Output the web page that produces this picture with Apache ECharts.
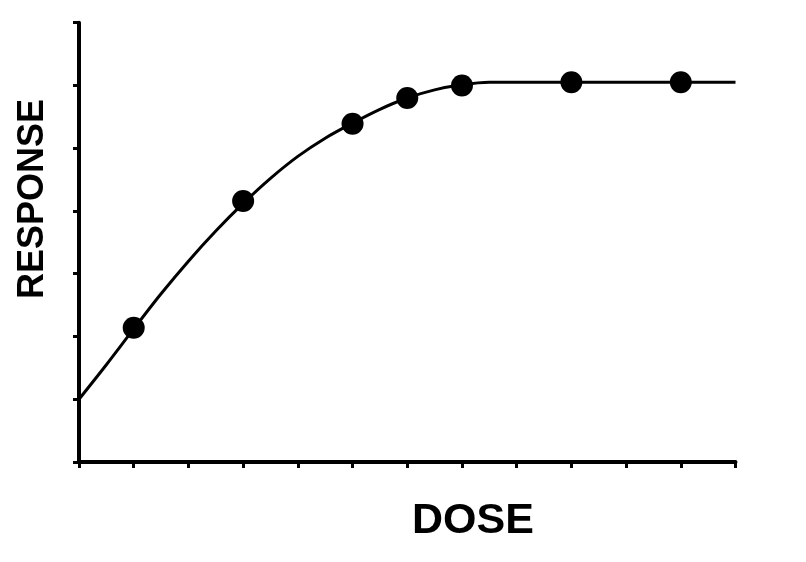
<!DOCTYPE html>
<html>
<head>
<meta charset="utf-8">
<script src="https://cdn.jsdelivr.net/npm/echarts@6/dist/echarts.min.js"></script>
<style>html,body{margin:0;padding:0;background:#fff}#c{width:806px;height:562px}</style>
</head>
<body>
<div id="c"></div>
<script>
// Measured data points (dose, response)
var doseValues = [1, 3, 5, 6, 7, 9, 11];
var responseValues = [2.14, 4.16, 5.39, 5.80, 6.00, 6.05, 6.05];
// Fitted curve
var curveDose = [0, 0.5, 1, 1.5, 2, 2.5, 3, 3.5, 4, 4.5, 5, 5.5, 6, 6.5, 7, 7.5, 8, 9, 10, 11, 12];
var curveResponse = [1.0, 1.55, 2.12, 2.68, 3.2, 3.68, 4.12, 4.52, 4.87, 5.16, 5.40, 5.62, 5.80, 5.93, 6.01, 6.05, 6.05, 6.05, 6.05, 6.05, 6.05];
var xLabel = 'DOSE';
var yLabel = 'RESPONSE';

var pts = doseValues.map(function (d, i) { return [d, responseValues[i]]; });
var curve = curveDose.map(function (d, i) { return [d, curveResponse[i]]; });

var chart = echarts.init(document.getElementById('c'), null, {renderer: 'canvas'});
var font = '"Liberation Sans", Arial, sans-serif';
chart.setOption({
  animation: false,
  backgroundColor: '#fff',
  grid: {left: 79, right: 70.5, top: 22.7, bottom: 100, containLabel: false},
  graphic: [
    {type: 'text', left: 412, top: 500, style: {text: xLabel, fontFamily: font, fontSize: 43, fontWeight: 'bold', fill: '#000'}},
    {type: 'text', x: 33, y: 199, rotation: Math.PI / 2,
     style: {text: yLabel, fontFamily: font, fontSize: 36, fontWeight: 'bold', fill: '#000', align: 'center', verticalAlign: 'middle'}}
  ],
  xAxis: {
    type: 'value', min: 0, max: 12, interval: 1,
    axisLine: {show: true, onZero: false, lineStyle: {color: '#000', width: 4}},
    axisTick: {show: true, length: 6, lineStyle: {color: '#000', width: 3}},
    axisLabel: {show: false},
    splitLine: {show: false}
  },
  yAxis: {
    type: 'value', min: 0, max: 7, interval: 1,
    axisLine: {show: true, onZero: false, lineStyle: {color: '#000', width: 4}},
    axisTick: {show: true, length: 6, lineStyle: {color: '#000', width: 3}},
    axisLabel: {show: false},
    splitLine: {show: false}
  },
  series: [
    {
      type: 'line', data: curve, smooth: 0.3, showSymbol: false, symbol: 'none',
      lineStyle: {color: '#000', width: 3}, z: 2, clip: false
    },
    {
      type: 'scatter', data: pts, symbol: 'circle', symbolSize: 22,
      itemStyle: {color: '#000', opacity: 1}, z: 3
    }
  ]
});
</script>
</body>
</html>
